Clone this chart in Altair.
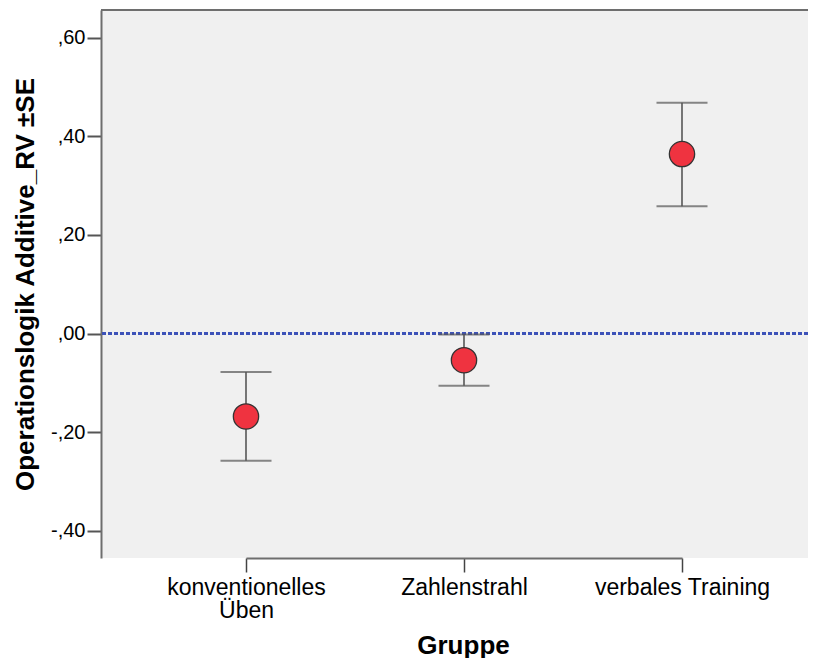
import altair as alt
import pandas as pd

groups = ["konventionelles Üben", "Zahlenstrahl", "verbales Training"]
means = [-0.168, -0.054, 0.364]
lower = [-0.258, -0.106, 0.258]
upper = [-0.078, -0.002, 0.468]
y_ticks = [-0.4, -0.2, 0.0, 0.2, 0.4, 0.6]
ref_value = [0.0]

df = pd.DataFrame({"Gruppe": groups, "mean": means, "lo": lower, "hi": upper})
ref = pd.DataFrame({"v": ref_value})

FONT = "Liberation Sans"
W, H = 707, 548

xscale = alt.Scale(type="point", domain=groups, range=[145, 581], padding=0)
yscale = alt.Scale(domain=[-0.455, 0.656], nice=False, zero=False)

x_enc = alt.X(
    "Gruppe:N",
    scale=xscale,
    sort=groups,
    axis=alt.Axis(
        title="Gruppe",
        titleFont=FONT, titleFontSize=26, titleFontWeight="bold", titleColor="black",
        titleX=362, titleY=95, titleAlign="center", titleBaseline="alphabetic",
        labelFont=FONT, labelFontSize=23, labelColor="black", labelAngle=0,
        labelAlign="center", labelBaseline="top", labelPadding=4, labelLineHeight=23,
        labelExpr="datum.label == 'konventionelles Üben' ? ['konventionelles', 'Üben'] : datum.label",
        tickSize=14, tickColor="#444444", tickWidth=1.5,
        domainColor="#6e6e6e", domainWidth=2, grid=False,
    ),
)

y_axis = alt.Axis(
    title="Operationslogik Additive_RV ±SE",
    titleFont=FONT, titleFontSize=26, titleFontWeight="bold", titleColor="black",
    titleAngle=-90, titleX=-76, titleY=274, titleAlign="center", titleBaseline="middle",
    values=y_ticks,
    labelExpr="replace(replace(format(datum.value, '.2f'), '0.', ','), '\u2212', '-')",
    labelFont=FONT, labelFontSize=20, labelColor="black", labelPadding=2,
    tickSize=14, tickColor="#555555", tickWidth=2,
    domainColor="#6e6e6e", domainWidth=2, grid=False,
)

base = alt.Chart(df)

rule = base.mark_rule(color="#333333", strokeWidth=1.3).encode(
    x=x_enc,
    y=alt.Y("lo:Q", scale=yscale, axis=y_axis),
    y2="hi:Q",
)
cap_lo = base.mark_tick(color="#555555", thickness=2, size=51, orient="horizontal").encode(
    x=alt.X("Gruppe:N", scale=xscale, sort=groups),
    y=alt.Y("lo:Q", scale=yscale),
)
cap_hi = base.mark_tick(color="#555555", thickness=2, size=51, orient="horizontal").encode(
    x=alt.X("Gruppe:N", scale=xscale, sort=groups),
    y=alt.Y("hi:Q", scale=yscale),
)
refline = alt.Chart(ref).mark_rule(color="#3D52B8", strokeWidth=3, strokeDash=[4, 2]).encode(
    y=alt.Y("v:Q", scale=yscale),
)
points = base.mark_point(
    filled=True, shape="circle", size=640, fill="#EF3340", stroke="#333333",
    strokeWidth=1.3, opacity=1,
).encode(
    x=alt.X("Gruppe:N", scale=xscale, sort=groups),
    y=alt.Y("mean:Q", scale=yscale),
)
topline = alt.Chart(ref).mark_rule(color="#6e6e6e", strokeWidth=2).encode(
    x=alt.value(0), x2=alt.value(W), y=alt.value(0),
)

chart = (
    alt.layer(refline, rule, cap_lo, cap_hi, points, topline)
    .properties(
        width=W, height=H,
        padding={"left": 93, "top": 2, "right": 0, "bottom": 100},
        autosize=alt.AutoSizeParams(type="none"),
        background="white",
    )
    .configure_view(fill="#F0F0F0", stroke="transparent", strokeWidth=0)
)

chart.save("out.html", embed_options={"renderer": "svg", "actions": False})
